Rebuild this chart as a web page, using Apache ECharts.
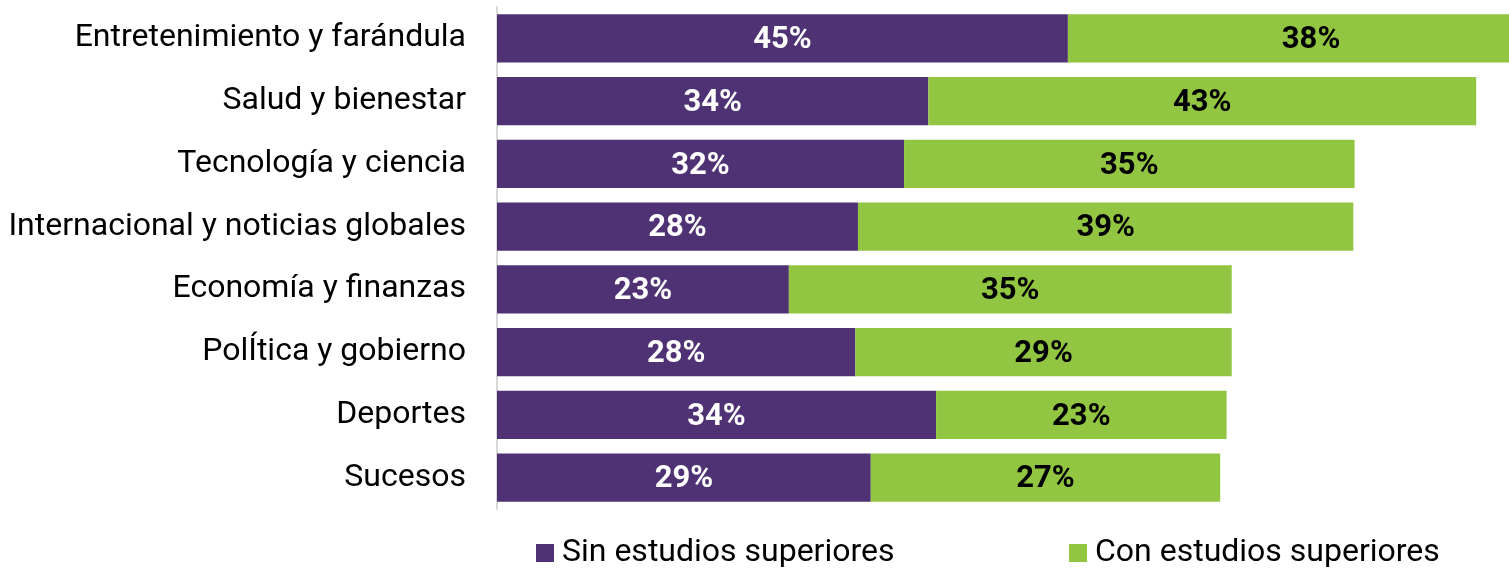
<!DOCTYPE html>
<html>
<head>
<meta charset="utf-8">
<script src="https://cdn.jsdelivr.net/npm/echarts@6/dist/echarts.min.js"></script>
<style>
  html, body { margin: 0; padding: 0; background: #fff; }
  #chart { width: 1509px; height: 568px; }
</style>
</head>
<body>
<div id="chart"></div>
<script>
  const categories = [
    "Entretenimiento y farándula",
    "Salud y bienestar",
    "Tecnología y ciencia",
    "Internacional y noticias globales",
    "Economía y finanzas",
    "PolÍtica y gobierno",
    "Deportes",
    "Sucesos"
  ];
  const seriesNames = ["Sin estudios superiores", "Con estudios superiores"];
  const sinEstudios = [44.6, 33.7, 31.8, 28.2, 22.8, 28.0, 34.3, 29.2];
  const conEstudios = [38.0, 42.8, 35.2, 38.7, 34.6, 29.4, 22.7, 27.3];

  const purple = "#4f3273";
  const green = "#92c642";
  const font = "Roboto";

  const chart = echarts.init(document.getElementById("chart"));

  const makeLabel = (color) => ({
    show: true,
    position: "inside",
    color: color,
    fontFamily: font,
    fontWeight: "bold",
    fontSize: 31,
    offset: [0, 2],
    formatter: (p) => Math.round(p.value) + "%"
  });

  const legendText = { fontFamily: font, fontSize: 32, color: "#000", padding: [0, 0, 0, 3] };

  const makeLegend = (name, left) => ({
    data: [name],
    left: left,
    top: 537,
    padding: 0,
    itemWidth: 18,
    itemHeight: 18,
    itemGap: 0,
    icon: "rect",
    textStyle: legendText
  });

  chart.setOption({
    animation: false,
    grid: { left: 497, top: 7, width: 1280, height: 502, outerBoundsMode: "none" },
    xAxis: {
      type: "value",
      min: 0,
      max: 100,
      show: false
    },
    yAxis: {
      type: "category",
      data: categories,
      inverse: true,
      axisLine: { show: true, lineStyle: { color: "#d9d9d9", width: 2 } },
      axisTick: { show: false },
      axisLabel: { fontFamily: font, fontSize: 32, color: "#000", margin: 31, padding: [2, 0, 0, 0] }
    },
    legend: [
      makeLegend(seriesNames[0], 536),
      makeLegend(seriesNames[1], 1069)
    ],
    series: [
      {
        name: seriesNames[0],
        type: "bar",
        stack: "total",
        data: sinEstudios,
        barCategoryGap: "23%",
        itemStyle: { color: purple },
        label: makeLabel("#fff")
      },
      {
        name: seriesNames[1],
        type: "bar",
        stack: "total",
        data: conEstudios,
        barCategoryGap: "23%",
        itemStyle: { color: green },
        label: makeLabel("#000")
      }
    ]
  });
</script>
</body>
</html>
